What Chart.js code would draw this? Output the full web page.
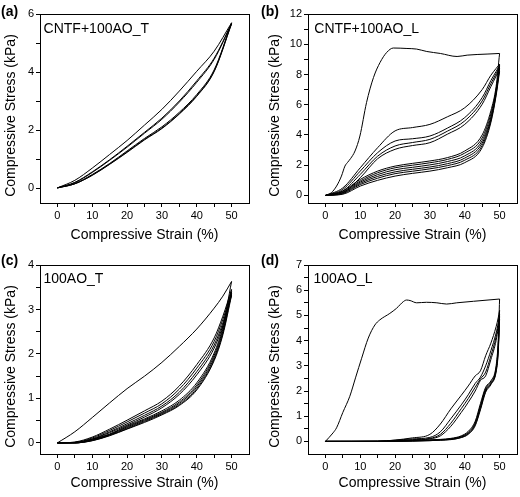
<!DOCTYPE html>
<html>
<head>
<meta charset="utf-8">
<script src="https://cdn.jsdelivr.net/npm/chart.js@4.4.0/dist/chart.umd.min.js"></script>
<style>
  html, body { margin: 0; padding: 0; background: #fff; }
  #wrap { position: relative; width: 520px; height: 497px; overflow: hidden; background: #fff; }
  canvas { position: absolute; }
  .tag { position: absolute; font: bold 14px "Liberation Sans", Arial, sans-serif; color: #000; line-height: 16px; }
</style>
</head>
<body>
<div id="wrap">
  <canvas id="chart-a" width="260" height="250" style="left:0px;top:0px;width:260px;height:250px"></canvas>
  <canvas id="chart-b" width="260" height="250" style="left:260px;top:0px;width:260px;height:250px"></canvas>
  <canvas id="chart-c" width="260" height="247" style="left:0px;top:250px;width:260px;height:247px"></canvas>
  <canvas id="chart-d" width="260" height="247" style="left:260px;top:250px;width:260px;height:247px"></canvas>
  <div class="tag" style="left:1px;top:3px">(a)</div>
  <div class="tag" style="left:261px;top:3px">(b)</div>
  <div class="tag" style="left:1px;top:252px">(c)</div>
  <div class="tag" style="left:261px;top:252px">(d)</div>
</div>
<script>
var FONT = '"Liberation Sans", Arial, sans-serif';

// ---- (a) CNTF+100AO_T ----
var strainA = [0, 5, 10, 15, 20, 25, 30, 35, 40, 45, 50];
var stressA_load1 = [0.02, 0.28, 0.7, 1.17, 1.65, 2.18, 2.72, 3.35, 4.03, 4.72, 5.7];
var stressA_load2 = [0.02, 0.21, 0.57, 0.99, 1.45, 1.93, 2.42, 3.01, 3.7, 4.48, 5.68];
var stressA_load3 = [0.02, 0.2, 0.55, 0.97, 1.42, 1.9, 2.38, 2.97, 3.65, 4.44, 5.66];
var stressA_unload1 = [0.02, 0.17, 0.48, 0.86, 1.29, 1.72, 2.12, 2.62, 3.23, 4.08, 5.7];
var stressA_unload2 = [0.02, 0.16, 0.46, 0.84, 1.26, 1.69, 2.08, 2.58, 3.19, 4.04, 5.68];
var stressA_unload3 = [0.02, 0.16, 0.45, 0.83, 1.24, 1.67, 2.06, 2.56, 3.17, 4.02, 5.66];

// ---- (b) CNTF+100AO_L ----
var strainB_first = [0, 1.7, 3.2, 4.6, 5.6, 6.3, 7.2, 8.5, 9.9, 11.8, 13.8, 15.7, 17.6, 19.5, 23.4, 26.2, 29.1, 33, 37.8, 40.7, 46.4, 50];
var stressB_first = [0, 0.18, 0.62, 1.28, 1.94, 2.17, 2.43, 2.94, 3.93, 6.14, 7.8, 8.8, 9.46, 9.75, 9.72, 9.68, 9.52, 9.39, 9.19, 9.28, 9.35, 9.39];
var strainB = [0, 5, 10, 15, 20, 25, 30, 35, 40, 45, 47.5, 49, 50];
var stressB_load2 = [0, 0.5, 1.83, 3.16, 4.27, 4.49, 4.7, 5.2, 5.8, 7.0, 7.95, 8.4, 8.68];
var stressB_load3 = [0, 0.4, 1.61, 2.83, 3.6, 3.75, 3.93, 4.45, 5.15, 6.47, 7.6, 8.2, 8.6];
var stressB_load4 = [0, 0.29, 1.39, 2.6, 3.27, 3.5, 3.71, 4.25, 4.93, 6.25, 7.4, 8.05, 8.5];
var stressB_load5 = [0, 0.18, 1.17, 2.43, 3.05, 3.3, 3.49, 4.05, 4.7, 6.03, 7.2, 7.9, 8.4];
var stressB_unload1 = [0, 0.3, 1.06, 1.61, 1.94, 2.12, 2.28, 2.5, 2.94, 4.0, 5.6, 7.2, 9.39];
var stressB_unload2 = [0, 0.25, 0.96, 1.5, 1.83, 2.0, 2.16, 2.38, 2.8, 3.8, 5.4, 7.0, 8.68];
var stressB_unload3 = [0, 0.2, 0.88, 1.38, 1.7, 1.86, 2.02, 2.24, 2.62, 3.62, 5.2, 6.9, 8.6];
var stressB_unload4 = [0, 0.16, 0.8, 1.26, 1.56, 1.73, 1.88, 2.1, 2.47, 3.46, 5.05, 6.8, 8.5];
var stressB_unload5 = [0, 0.12, 0.72, 1.14, 1.44, 1.6, 1.76, 1.97, 2.33, 3.3, 4.95, 6.7, 8.4];
var stressB_unload6 = [0, 0.08, 0.62, 1.0, 1.28, 1.46, 1.61, 1.83, 2.17, 3.16, 4.82, 6.6, 8.2];

// ---- (c) 100AO_T ----
var strainC = [0, 5, 10, 15, 20, 25, 30, 35, 40, 45, 47.5, 50];
var stressC_load1 = [0, 0.25, 0.57, 0.9, 1.22, 1.5, 1.81, 2.17, 2.56, 3.03, 3.3, 3.63];
var stressC_load2 = [0, 0.02, 0.13, 0.31, 0.51, 0.72, 0.94, 1.28, 1.76, 2.36, 2.85, 3.45];
var stressC_load3 = [0, 0.01, 0.11, 0.28, 0.47, 0.67, 0.88, 1.21, 1.68, 2.28, 2.78, 3.4];
var stressC_load4 = [0, 0.01, 0.09, 0.25, 0.43, 0.62, 0.83, 1.14, 1.6, 2.2, 2.7, 3.36];
var stressC_load5 = [0, 0, 0.08, 0.23, 0.4, 0.58, 0.79, 1.09, 1.53, 2.13, 2.64, 3.32];
var stressC_unload1 = [0, 0.01, 0.08, 0.2, 0.38, 0.54, 0.72, 0.96, 1.35, 2.02, 2.62, 3.63];
var stressC_unload2 = [0, 0, 0.07, 0.19, 0.36, 0.52, 0.69, 0.92, 1.3, 1.97, 2.56, 3.45];
var stressC_unload3 = [0, 0, 0.06, 0.18, 0.34, 0.5, 0.67, 0.89, 1.26, 1.92, 2.51, 3.4];
var stressC_unload4 = [0, 0, 0.05, 0.17, 0.32, 0.48, 0.65, 0.86, 1.22, 1.88, 2.47, 3.36];
var stressC_unload5 = [0, 0, 0.05, 0.16, 0.31, 0.46, 0.63, 0.84, 1.19, 1.85, 2.43, 3.32];

// ---- (d) 100AO_L ----
var strainD_first = [0, 2.2, 3.2, 5, 7, 8.7, 10.4, 12.3, 14.2, 15.6, 18.5, 20.4, 22.4, 23.3, 24.3, 26.2, 29, 32, 34.8, 37.7, 42.5, 50];
var stressD_first = [0, 0.34, 0.54, 1.15, 1.79, 2.55, 3.3, 4.1, 4.62, 4.82, 5.08, 5.28, 5.55, 5.61, 5.59, 5.5, 5.52, 5.5, 5.45, 5.5, 5.56, 5.65];
var strainD = [0, 15, 25, 30, 33, 36, 39, 41, 43, 44.5, 46, 47.5, 49, 49.6, 50];
var stressD_load2 = [0, 0.01, 0.14, 0.28, 0.69, 1.29, 1.83, 2.2, 2.6, 2.8, 3.4, 3.9, 4.55, 4.9, 5.2];
var stressD_load3 = [0, 0.01, 0.1, 0.16, 0.38, 0.9, 1.45, 1.85, 2.3, 2.55, 3.0, 3.6, 4.3, 4.7, 5.05];
var stressD_load4 = [0, 0, 0.07, 0.12, 0.28, 0.72, 1.3, 1.7, 2.15, 2.48, 2.75, 3.4, 4.15, 4.6, 4.95];
var stressD_load5 = [0, 0, 0.05, 0.1, 0.22, 0.6, 1.15, 1.55, 2.0, 2.42, 2.6, 3.25, 4.0, 4.5, 4.85];
var stressD_unload1 = [0, 0, 0.04, 0.06, 0.08, 0.12, 0.22, 0.4, 0.8, 1.5, 2.15, 2.4, 3.0, 4.0, 5.65];
var stressD_unload2 = [0, 0, 0.03, 0.05, 0.07, 0.1, 0.2, 0.36, 0.74, 1.42, 2.1, 2.35, 2.9, 3.8, 5.2];
var stressD_unload3 = [0, 0, 0.02, 0.04, 0.06, 0.09, 0.18, 0.33, 0.7, 1.36, 2.05, 2.3, 2.85, 3.7, 5.05];
var stressD_unload4 = [0, 0, 0.02, 0.03, 0.05, 0.08, 0.16, 0.3, 0.66, 1.3, 2.0, 2.28, 2.8, 3.6, 4.95];
var stressD_unload5 = [0, 0, 0.01, 0.03, 0.05, 0.07, 0.15, 0.28, 0.62, 1.25, 1.95, 2.25, 2.75, 3.5, 4.85];

// frame round the plot, y title and sample name inside it
var framePlugin = {
	id: 'frame',
	afterDraw: function (chart, args, opts) {
		var a = chart.chartArea, ctx = chart.ctx;
		ctx.save();
		ctx.strokeStyle = '#000';
		ctx.lineWidth = 1;
		ctx.strokeRect(a.left + 0.5, a.top + 0.5, a.right - a.left, a.bottom - a.top);
		ctx.font = '14px ' + FONT;
		ctx.fillStyle = '#000';
		ctx.textBaseline = 'alphabetic';
		ctx.textAlign = 'left';
		ctx.fillText(opts.text, a.left + opts.dx, a.top + opts.dy);
		// y axis title, sits a little below the plot centre like the original
		ctx.translate(opts.yTitleX, (a.top + a.bottom) / 2 + 7);
		ctx.rotate(-Math.PI / 2);
		ctx.textAlign = 'center';
		ctx.textBaseline = 'middle';
		ctx.fillText('Compressive Stress (kPa)', 0, 0);
		ctx.restore();
	}
};

let makePanel = function (id, p) {
	var ctx = document.getElementById(id).getContext('2d');
	var datasets = p.curves.map(function (c) {
		return {
			data: c[0].map(function (v, i) { return { x: v, y: c[1][i] }; }),
			borderColor: '#000',
			borderWidth: 1,
			pointRadius: 0,
			fill: false,
			cubicInterpolationMode: 'monotone'
		};
	});
	var tickFont = { family: FONT, size: 11 };
	var titleFont = { family: FONT, size: 14 };
	var config = {
		type: 'line',
		data: { datasets: datasets },
		plugins: [framePlugin],
		options: {
			responsive: false,
			animation: false,
			events: [],
			layout: { padding: { left: 0, top: p.padTop, right: p.padRight, bottom: 0 } },
			plugins: {
				legend: { display: false },
				tooltip: { enabled: false },
				frame: { text: p.name, dx: p.nameDx, dy: p.nameDy, yTitleX: p.yTitleX }
			},
			scales: {
				x: {
					type: 'linear',
					min: -5,
					max: 55,
					afterBuildTicks: function (s) { s.ticks = s.ticks.filter(t => t.value >= 0 && t.value <= 50); },
					afterFit: function (s) { s.height = p.xAxisHeight; },
					ticks: {
						stepSize: 5, autoSkip: false, maxRotation: 0, includeBounds: false, color: '#000', font: tickFont, padding: 2,
						callback: function (v) { return v % 10 === 0 ? v : ''; }
					},
					grid: { display: true, drawOnChartArea: false, drawTicks: true, tickLength: 4, tickColor: '#000', tickWidth: 1 },
					border: { display: true, color: '#000', width: 1 },
					title: { display: true, text: 'Compressive Strain (%)', color: '#000', font: titleFont, padding: { top: 0, bottom: p.xTitlePad } }
				},
				y: {
					type: 'linear',
					min: p.yMin,
					max: p.yMax,
					afterBuildTicks: function (s) { s.ticks = s.ticks.filter(t => t.value >= 0); },
					afterFit: function (s) { s.width = p.yAxisWidth; },
					ticks: {
						stepSize: p.yStep, autoSkip: false, includeBounds: false, color: '#000', font: tickFont, padding: 2,
						callback: function (v) { return Math.abs(v / p.yLabelStep - Math.round(v / p.yLabelStep)) < 1e-6 ? v : ''; }
					},
					grid: { display: true, drawOnChartArea: false, drawTicks: true, tickLength: 4, tickColor: '#000', tickWidth: 1 },
					border: { display: true, color: '#000', width: 1 },
					title: { display: false }
				}
			}
		}
	};
	return new Chart(ctx, config);
};

makePanel('chart-a', {
	name: 'CNTF+100AO_T', nameDx: 3.6, nameDy: 18.7, yTitleX: 11.5,
	padTop: 14, padRight: 11, yAxisWidth: 40, xAxisHeight: 47, xTitlePad: 6.6,
	yMin: -0.5, yMax: 6, yStep: 1, yLabelStep: 2,
	curves: [
		[strainA, stressA_load1], [strainA, stressA_load2], [strainA, stressA_load3],
		[strainA, stressA_unload1], [strainA, stressA_unload2], [strainA, stressA_unload3]
	]
});

makePanel('chart-b', {
	name: 'CNTF+100AO_L', nameDx: 6.3, nameDy: 18.7, yTitleX: 15,
	padTop: 14, padRight: 3, yAxisWidth: 48, xAxisHeight: 47, xTitlePad: 6.6,
	yMin: -0.5, yMax: 12, yStep: 1, yLabelStep: 2,
	curves: [
		[strainB_first, stressB_first],
		[strainB, stressB_load2], [strainB, stressB_load3], [strainB, stressB_load4], [strainB, stressB_load5],
		[strainB, stressB_unload1], [strainB, stressB_unload2], [strainB, stressB_unload3],
		[strainB, stressB_unload4], [strainB, stressB_unload5], [strainB, stressB_unload6]
	]
});

makePanel('chart-c', {
	name: '100AO_T', nameDx: 3.5, nameDy: 18.3, yTitleX: 11.5,
	padTop: 15, padRight: 11, yAxisWidth: 40, xAxisHeight: 43, xTitlePad: 5.6,
	yMin: -0.25, yMax: 4, yStep: 0.5, yLabelStep: 1,
	curves: [
		[strainC, stressC_load1], [strainC, stressC_load2], [strainC, stressC_load3], [strainC, stressC_load4], [strainC, stressC_load5],
		[strainC, stressC_unload1], [strainC, stressC_unload2], [strainC, stressC_unload3], [strainC, stressC_unload4], [strainC, stressC_unload5]
	]
});

makePanel('chart-d', {
	name: '100AO_L', nameDx: 5.5, nameDy: 18.3, yTitleX: 15,
	padTop: 15, padRight: 3, yAxisWidth: 48, xAxisHeight: 43, xTitlePad: 5.6,
	yMin: -0.5, yMax: 7, yStep: 0.5, yLabelStep: 1,
	curves: [
		[strainD_first, stressD_first],
		[strainD, stressD_load2], [strainD, stressD_load3], [strainD, stressD_load4], [strainD, stressD_load5],
		[strainD, stressD_unload1], [strainD, stressD_unload2], [strainD, stressD_unload3], [strainD, stressD_unload4], [strainD, stressD_unload5]
	]
});
</script>
</body>
</html>
